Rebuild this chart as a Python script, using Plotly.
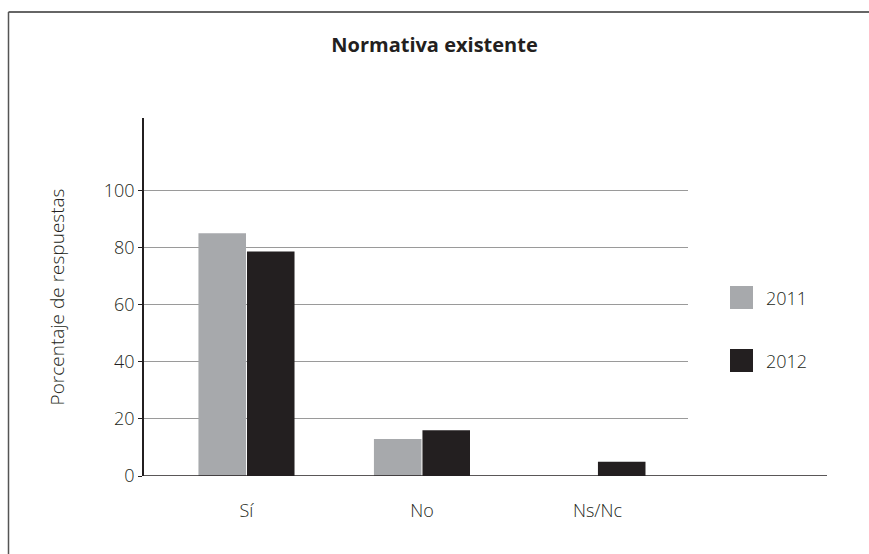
import plotly.graph_objects as go

categorias = ["Sí", "No", "Ns/Nc"]
anios = ["2011", "2012"]
valores_2011 = [85, 13, 0]
valores_2012 = [78.6, 16, 5]
colores = ["#a7a9ac", "#231f20"]
ticks_y = [0, 20, 40, 60, 80, 100]

W, H = 869, 554
L, R, T, B = 144, 688, 118, 476


def px(x):
    return (x - L) / (R - L)


def py(y):
    return (B - y) / (B - T)


fuente = "Open Sans, Noto Sans, sans-serif"
texto = "#231f20"
ligera = dict(family=fuente, size=18, color=texto, weight=300)

fig = go.Figure()
for nombre, vals, col in zip(anios, [valores_2011, valores_2012], colores):
    fig.add_trace(go.Bar(
        x=categorias, y=vals, name=nombre,
        marker=dict(color=col, line=dict(width=0)),
    ))

shapes = [
    # base line extended past the grid
    dict(type="line", xref="paper", yref="y", x0=0, x1=px(827), y0=0, y1=0,
         line=dict(color=texto, width=1.5)),
    # frame (top and left edges)
    dict(type="line", xref="paper", yref="paper", x0=px(8.5), x1=px(W + 5),
         y0=py(12), y1=py(12), line=dict(color="#333333", width=1.5)),
    dict(type="line", xref="paper", yref="paper", x0=px(8.5), x1=px(8.5),
         y0=py(12), y1=py(H + 5), line=dict(color="#555555", width=1.5)),
]
annotations = []
for i, (nombre, col) in enumerate(zip(anios, colores)):
    yc = 297.5 + i * 63
    shapes.append(dict(type="rect", xref="paper", yref="paper",
                       x0=px(730), x1=px(753), y0=py(yc - 11.5), y1=py(yc + 11.5),
                       fillcolor=col, line=dict(width=0)))
    annotations.append(dict(xref="paper", yref="paper", x=px(764), y=py(yc),
                            xanchor="left", yanchor="middle", text=nombre,
                            showarrow=False, font=ligera))

fig.update_layout(
    width=W, height=H,
    margin=dict(l=L, r=W - R, t=T, b=H - B),
    paper_bgcolor="white", plot_bgcolor="white",
    showlegend=False,
    barmode="group", bargap=0.447, bargroupgap=0.02,
    font=ligera,
    title=dict(text="<b>Normativa existente</b>", x=0.5, xref="container", xanchor="center",
               y=1 - 45 / H, yanchor="middle", yref="container",
               font=dict(size=20, color=texto, family=fuente)),
    shapes=shapes, annotations=annotations,
)
fig.update_xaxes(
    type="category", range=[-0.584, 2.516],
    showline=False, showgrid=False, zeroline=False, ticks="",
    ticklabelstandoff=22, tickfont=ligera,
)
fig.update_yaxes(
    range=[0, 125.4], tickvals=ticks_y,
    showline=True, linecolor=texto, linewidth=1.5,
    showgrid=True, gridcolor="#9a9a9a", gridwidth=1,
    zeroline=False, ticks="outside", ticklen=4, tickcolor=texto,
    tickfont=ligera,
    title=dict(text="Porcentaje de respuestas", standoff=34,
               font=dict(ligera, size=19)),
)

fig.write_html("out.html", config={"displayModeBar": False},
               post_script="document.body.style.margin='0';")
